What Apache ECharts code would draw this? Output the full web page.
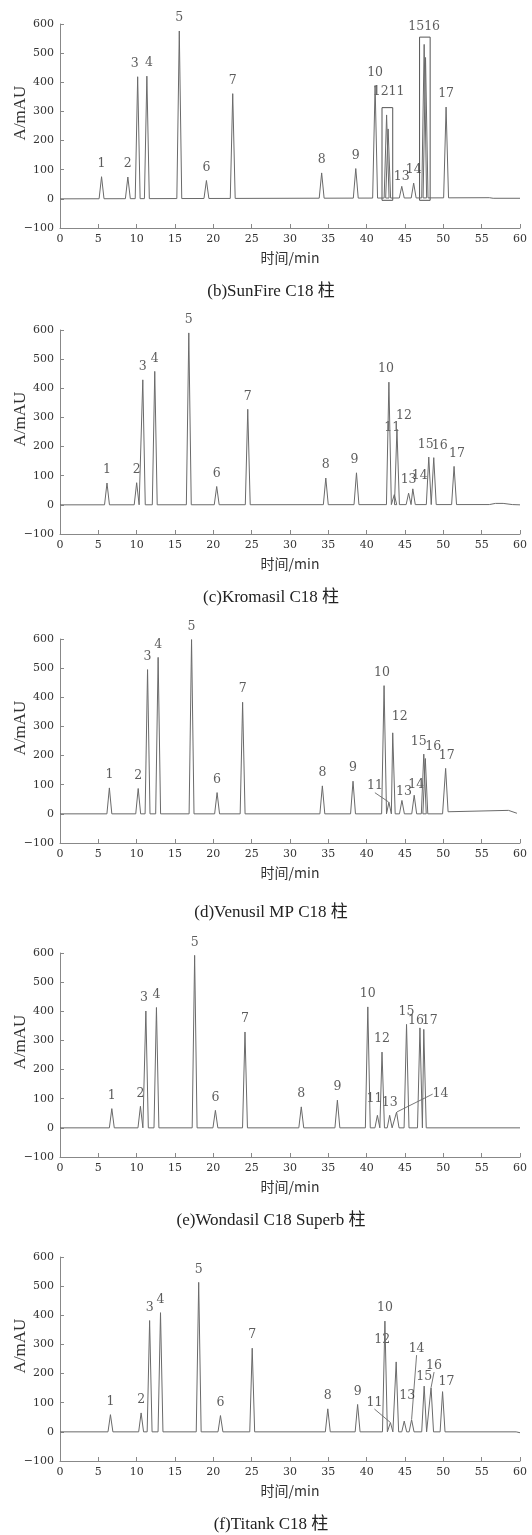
<!DOCTYPE html>
<html>
<head>
<meta charset="utf-8">
<script src="https://cdn.jsdelivr.net/npm/echarts@6/dist/echarts.min.js"></script>
<style>
  html, body { margin: 0; background: #fff; }
  #chart { width: 532px; height: 1535px; }
</style>
</head>
<body>
<div id="chart"></div>
<script>
// 峰表：保留时间(min) 与峰高(mAU)，按峰号 1..17 排列，读自原图
const timesB   = [5.42, 8.85, 10.13, 11.33, 15.56, 19.1, 22.53, 34.13, 38.58, 41.1, 42.8, 42.6, 44.58, 46.13, 47.5, 47.68, 50.36]
const heightsB = [76, 75, 419, 421, 576, 63, 361, 89, 104, 389, 240, 288, 43, 54, 530, 485, 315]
const baseB    = [[0, 0], [45, 3], [56, 4], [56.5, 2], [60, 2]]

const timesC   = [6.13, 10.0, 10.8, 12.36, 16.8, 20.44, 24.49, 34.67, 38.67, 42.9, 43.6, 43.95, 45.47, 46.02, 48.1, 48.75, 51.4]
const heightsC = [75, 76, 429, 458, 590, 63, 328, 92, 110, 421, 35, 260, 40, 55, 164, 162, 132]
const baseC    = [[0, 0], [56, 1], [56.8, 5], [57.8, 5], [59, 1], [60, 0]]

const timesD   = [6.44, 10.2, 11.42, 12.8, 17.16, 20.49, 23.82, 34.22, 38.22, 42.27, 42.9, 43.4, 44.6, 46.2, 47.45, 47.65, 50.3]
const heightsD = [89, 87, 495, 537, 598, 73, 383, 96, 112, 440, 40, 278, 46, 64, 205, 190, 156]
const baseD    = [[0, 0], [49.9, 0], [50.7, 8], [58.5, 12], [59.6, 2]]

const timesE   = [6.76, 10.49, 11.2, 12.58, 17.56, 20.27, 24.13, 31.47, 36.18, 40.15, 41.4, 42.0, 43.0, 43.9, 45.2, 46.95, 47.45]
const heightsE = [66, 74, 401, 413, 592, 60, 329, 72, 95, 415, 43, 260, 43, 54, 355, 343, 338]
const baseE    = [[0, 0], [60, 0]]

const timesF   = [6.58, 10.58, 11.69, 13.11, 18.09, 20.93, 25.07, 34.93, 38.82, 42.38, 43.1, 43.85, 44.9, 45.86, 47.5, 48.4, 49.9]
const heightsF = [59, 65, 382, 409, 513, 56, 287, 79, 94, 380, 32, 240, 37, 42, 157, 152, 138]
const baseF    = [[0, 0], [59.5, 0], [60, -3]]

// 峰号标签（空字符串 = 不显示）
const peakNames = ['1', '2', '3', '4', '5', '6', '7', '8', '9', '10', '11', '12', '13', '14', '15', '16', '17']
const labelsB = ['1', '2', '3', '4', '5', '6', '7', '8', '9', '10', '', '1211', '13', '14', '1516', '', '17']

const captions = ['(b)SunFire C18 柱', '(c)Kromasil C18 柱', '(d)Venusil MP C18 柱', '(e)Wondasil C18 Superb 柱', '(f)Titank C18 柱']

// 坐标轴刻度
const xTicks = { min: 0, max: 60, interval: 5 }
const yTicks = { min: -100, max: 600, interval: 100 }
const xName = '时间/min'
const yName = 'A/mAU'

// 标签偏移 [dx, dy, 是否画引线]，按峰号
const shiftB = { 3: [-3, 0], 4: [2, 0], 12: [2, -10], 13: [0, 3], 15: [0, -5] }
const shiftC = { 9: [-2, 0], 10: [-3, 0], 11: [-2, -54], 12: [7, 0], 14: [7, 0], 15: [-3, 1], 16: [6, 1], 17: [3, 0] }
const shiftD = { 10: [-2, 0], 11: [-14, -3, 1], 12: [7, -3], 13: [2, 4], 14: [2, 3], 15: [-5, 1], 16: [8, 1], 17: [1, 0] }
const shiftE = { 3: [-2, 0], 11: [-3, -4], 14: [44, -5, 1], 16: [-4, 6], 17: [6, 4] }
const shiftF = { 11: [-16, -7, 1], 12: [-14, -9], 13: [3, -12], 14: [5, -58, 1], 15: [0, 4], 16: [3, -9, 1], 17: [4, 3] }

const panels = [
  { times: timesB, heights: heightsB, base: baseB, labels: labelsB, shift: shiftB, boxes: [[11, 12], [15, 16]], top: 24, capY: 292 },
  { times: timesC, heights: heightsC, base: baseC, labels: peakNames, shift: shiftC, boxes: [], top: 330, capY: 598 },
  { times: timesD, heights: heightsD, base: baseD, labels: peakNames, shift: shiftD, boxes: [], top: 639, capY: 913 },
  { times: timesE, heights: heightsE, base: baseE, labels: peakNames, shift: shiftE, boxes: [], top: 953, capY: 1221 },
  { times: timesF, heights: heightsF, base: baseF, labels: peakNames, shift: shiftF, boxes: [], top: 1257, capY: 1525 }
]

const HW = 0.32          // 峰半宽(min)，仅用于绘制
const TRACE = '#6a6a6a'
const AXIS = '#888'
const TEXT = '#333'
const NUM_FONT = 'DejaVu Serif'
const CAP_FONT = '"Liberation Serif", "Noto Sans CJK SC", serif'

function baseAt(base, x) {
  for (let i = 1; i < base.length; i++) {
    const [x0, y0] = base[i - 1], [x1, y1] = base[i]
    if (x <= x1) return y0 + (y1 - y0) * (x - x0) / (x1 - x0)
  }
  return base[base.length - 1][1]
}

// 由峰表拼出色谱曲线：每个峰为一个窄三角
function traceOf(p) {
  const groups = p.base.map(pt => [pt])
  p.times.forEach((t, i) => {
    groups.push([
      [t - HW, baseAt(p.base, t - HW)],
      [t, Math.max(p.heights[i], baseAt(p.base, t))],
      [t + HW, baseAt(p.base, t + HW)]
    ])
  })
  const mid = g => g[Math.floor(g.length / 2)][0]
  groups.sort((a, b) => mid(a) - mid(b))
  return groups.flat()
}

function boxesOf(p) {
  return p.boxes.map(ids => {
    const ts = ids.map(n => p.times[n - 1])
    const hs = ids.map(n => p.heights[n - 1])
    return [
      { coord: [Math.min(...ts) - 0.6, -5] },
      { coord: [Math.max(...ts) + 0.6, Math.max(...hs) + 25] }
    ]
  })
}

const grid = [], xAxis = [], yAxis = [], series = [], graphic = []

panels.forEach((p, k) => {
  grid.push({ left: 60, width: 460, top: p.top, height: 204, containLabel: false, outerBoundsMode: 'none' })
  xAxis.push({
    type: 'value', gridIndex: k, ...xTicks,
    name: xName, nameLocation: 'middle', nameGap: 23, nameMoveOverlap: false,
    nameTextStyle: { fontFamily: '"Noto Sans CJK SC", serif', fontSize: 14, color: TEXT },
    axisLine: { onZero: false, lineStyle: { color: AXIS } },
    axisTick: { inside: true, length: 4, lineStyle: { color: AXIS } },
    axisLabel: { margin: 6, fontFamily: NUM_FONT, fontSize: 11, color: TEXT },
    splitLine: { show: false }
  })
  yAxis.push({
    type: 'value', gridIndex: k, ...yTicks,
    name: yName, nameLocation: 'middle', nameGap: 31, nameMoveOverlap: false,
    nameTextStyle: { fontFamily: '"Liberation Serif", serif', fontSize: 17, color: TEXT, padding: [0, 0, 0, 26] },
    axisLine: { show: true, onZero: false, lineStyle: { color: AXIS } },
    axisTick: { show: true, inside: true, length: 4, lineStyle: { color: AXIS } },
    axisLabel: { margin: 6, fontFamily: NUM_FONT, fontSize: 11, color: TEXT,
      formatter: v => (v < 0 ? '\u2212' + Math.abs(v) : String(v)) },
    splitLine: { show: false }
  })
  series.push({
    type: 'line', xAxisIndex: k, yAxisIndex: k,
    data: traceOf(p), symbol: 'none', silent: true, animation: false,
    lineStyle: { color: TRACE, width: 1 },
    markArea: p.boxes.length ? {
      silent: true,
      itemStyle: { color: 'rgba(0,0,0,0)', borderColor: '#555', borderWidth: 1 },
      data: boxesOf(p)
    } : undefined
  })
  series.push({
    type: 'scatter', xAxisIndex: k, yAxisIndex: k,
    symbolSize: 1, itemStyle: { color: 'rgba(0,0,0,0)' }, silent: true, animation: false,
    data: p.times.map((t, i) => {
      const s = p.shift[i + 1]
      return {
        value: [t, p.heights[i]],
        name: p.labels[i],
        labelLine: { show: !!(s && s[2]) }
      }
    }),
    label: {
      show: true, position: 'top', distance: 6,
      formatter: d => d.name,
      fontFamily: NUM_FONT, fontSize: 12.5, color: TEXT
    },
    labelLine: { lineStyle: { color: '#555', width: 0.8 } },
    labelLayout: prm => {
      const s = p.shift[prm.dataIndex + 1]
      return s ? { dx: s[0], dy: s[1] } : {}
    }
  })
  graphic.push({
    type: 'text', x: 271, y: p.capY,
    style: { text: captions[k], font: '17px ' + CAP_FONT, fill: '#222', textAlign: 'center', textVerticalAlign: 'middle' }
  })
})

const chart = echarts.init(document.getElementById('chart'))
chart.setOption({ animation: false, grid, xAxis, yAxis, series, graphic })
</script>
</body>
</html>
